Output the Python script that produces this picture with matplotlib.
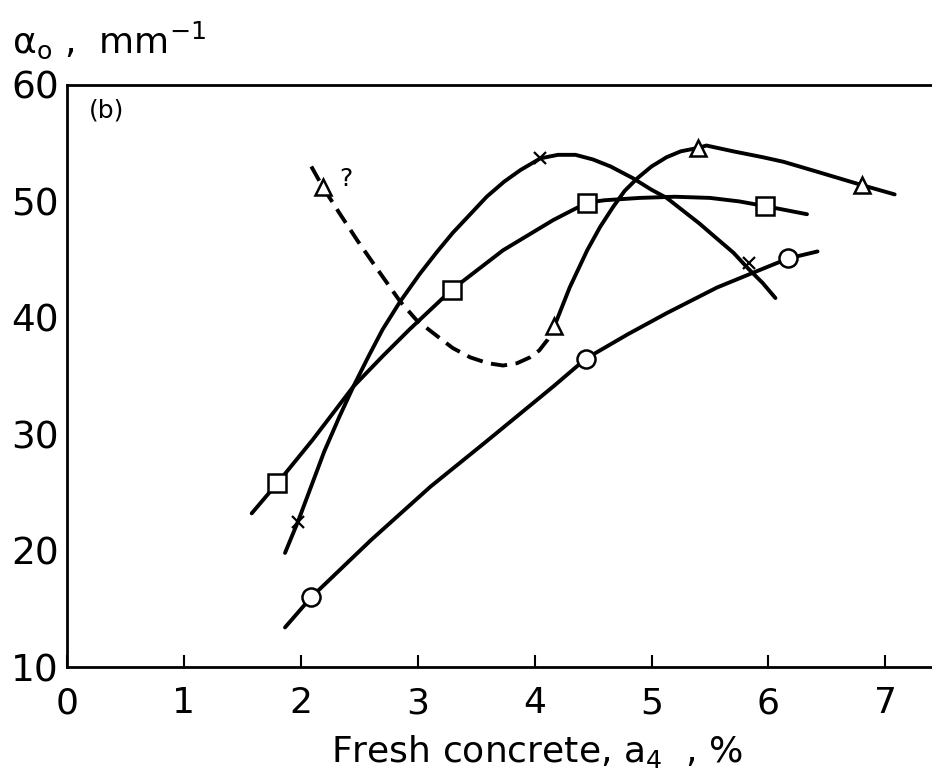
import matplotlib
matplotlib.use("Agg")
import matplotlib.pyplot as plt

plt.rcParams['font.family'] = ["DejaVu Sans"]
plt.rcParams['mathtext.fontset'] = 'dejavusans'

# ---- data ----
# circle series (curve + markers)
circ_x = [1.865, 2.09, 2.6, 3.11, 3.59, 4.16, 4.44, 4.8, 5.13, 5.56, 5.9, 6.17, 6.42]
circ_y = [13.4, 16.0, 20.9, 25.5, 29.4, 34.1, 36.5, 38.6, 40.4, 42.6, 44.0, 45.1, 45.7]
circ_mx = [2.09, 4.44, 6.17]
circ_my = [16.0, 36.5, 45.1]

# square series
sq_x = [1.58, 1.80, 2.10, 2.45, 2.70, 2.93, 3.29, 3.73, 4.16, 4.45, 4.6, 4.9, 5.2, 5.5, 5.75, 5.97, 6.33]
sq_y = [23.2, 25.8, 29.5, 34.1, 36.7, 39.0, 42.4, 45.8, 48.4, 49.9, 50.1, 50.3, 50.4, 50.3, 50.0, 49.6, 48.9]
sq_mx = [1.80, 3.29, 4.45, 5.97]
sq_my = [25.8, 42.4, 49.9, 49.6]

# cross series
cr_x = [1.865, 1.976, 2.20, 2.33, 2.45, 2.58, 2.70, 2.85, 3.02, 3.16, 3.30, 3.45, 3.59, 3.74, 3.88,
        4.05, 4.20, 4.35, 4.50, 4.65, 4.84, 5.00, 5.13, 5.27, 5.41, 5.56, 5.70, 5.83, 5.95, 6.06]
cr_y = [19.8, 22.5, 28.5, 31.5, 34.1, 36.7, 39.0, 41.4, 43.8, 45.6, 47.3, 48.9, 50.4, 51.7, 52.7,
        53.7, 54.0, 54.0, 53.6, 53.0, 52.0, 51.0, 50.3, 49.2, 48.1, 46.8, 45.6, 44.2, 43.0, 41.7]
cr_mx = [1.976, 4.05, 5.83]
cr_my = [22.5, 53.7, 44.7]

# triangle series, solid part
tri_x = [4.17, 4.30, 4.45, 4.56, 4.67, 4.77, 4.88, 5.00, 5.13, 5.25, 5.40, 5.47, 5.70, 5.95, 6.13,
         6.40, 6.60, 6.80, 7.08]
tri_y = [39.3, 42.6, 45.8, 47.8, 49.5, 50.9, 52.0, 53.0, 53.8, 54.3, 54.6, 54.8, 54.3, 53.8, 53.4,
         52.6, 52.0, 51.4, 50.6]
tri_mx = [4.17, 5.40, 6.80]
tri_my = [39.3, 54.6, 51.4]

# triangle series, dashed part
dash_x = [2.09, 2.19, 2.33, 2.48, 2.66, 2.85, 2.99, 3.17, 3.30, 3.45, 3.60, 3.73, 3.85, 3.96, 4.04, 4.11, 4.17]
dash_y = [53.0, 51.2, 49.0, 46.7, 44.1, 41.4, 39.8, 38.4, 37.4, 36.6, 36.1, 35.9, 36.1, 36.6, 37.2, 38.1, 39.3]
dash_mx = [2.19]
dash_my = [51.2]

x_ticks = [0, 1, 2, 3, 4, 5, 6, 7]
y_ticks = [10, 20, 30, 40, 50, 60]

# ---- figure ----
fig = plt.figure(figsize=(9.32, 7.80), dpi=100)
ax = fig.add_axes([67/932, 113/780, 1 - 67/932, 582/780])
ax.set_xlim(0, 865/116.9)
ax.set_ylim(10, 60)

lw = 2.8
lkw = dict(color='black', lw=lw, solid_capstyle='round', solid_joinstyle='round', zorder=2)
ax.plot(circ_x, circ_y, **lkw)
ax.plot(sq_x, sq_y, **lkw)
ax.plot(cr_x, cr_y, **lkw)
ax.plot(tri_x, tri_y, **lkw)
ax.plot(dash_x, dash_y, color='black', lw=lw, ls=(0, (4.2, 2.2)), dash_capstyle='butt',
        dash_joinstyle='round', zorder=2)

mkw = dict(ls='none', mfc='white', mec='black', mew=1.8, zorder=3)
ax.plot(circ_mx, circ_my, marker='o', ms=13, **mkw)
ax.plot(sq_mx, sq_my, marker='s', ms=13, **mkw)
ax.plot(tri_mx, tri_my, marker='^', ms=12, **mkw)
ax.plot(dash_mx, dash_my, marker='^', ms=12, **mkw)
ax.plot(cr_mx, cr_my, ls='none', marker='x', ms=9, mew=1.6, color='black', zorder=3)

ax.text(2.33, 51.9, "?", fontsize=18, ha='left', va='center')
ax.text(0.19, 57.8, "(b)", fontsize=18, ha='left', va='center')

for s in ['left', 'bottom', 'top']:
    ax.spines[s].set_linewidth(2.0)
ax.spines['right'].set_visible(False)

ax.set_xticks(x_ticks)
ax.set_yticks(y_ticks)
ax.tick_params(axis='x', direction='in', length=9, width=1.5, labelsize=26, pad=14)
ax.tick_params(axis='y', length=0, labelsize=27, pad=6)

fig.text(537/932, 1 - 752/780, r"Fresh concrete, $\mathregular{a_4}$  , %",
         fontsize=26, ha='center', va='center')
fig.text(12/932, 1 - 40/780, r"$\mathregular{\alpha_o}$ ,  mm$^{\mathregular{-1}}$",
         fontsize=26, ha='left', va='center')

fig.savefig("out.png", dpi=100)
